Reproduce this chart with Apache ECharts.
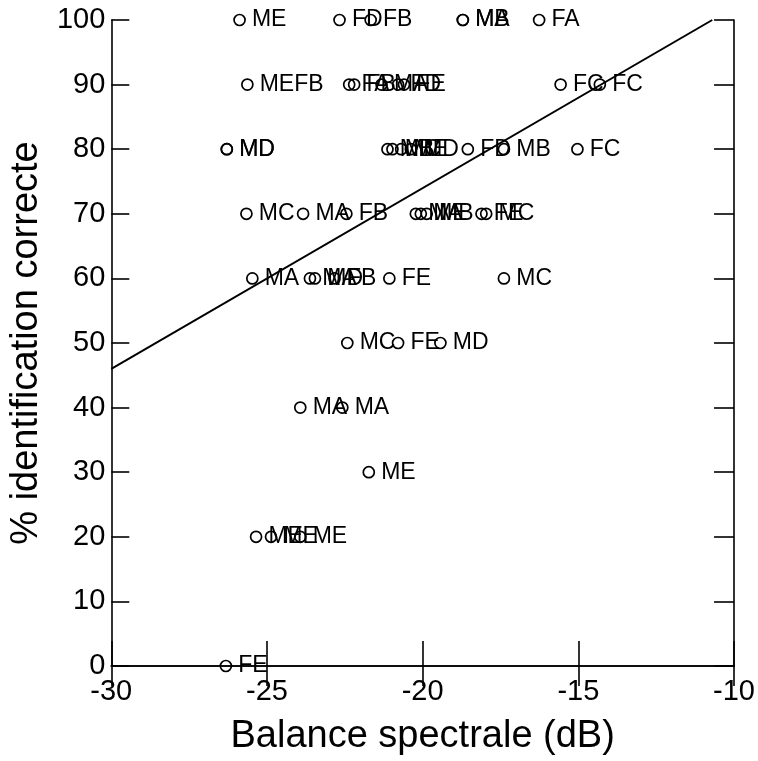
<!DOCTYPE html>
<html>
<head>
<meta charset="utf-8">
<script src="https://cdn.jsdelivr.net/npm/echarts@6/dist/echarts.min.js"></script>
<style>html,body{margin:0;padding:0;background:#fff}#c{width:758px;height:761px}</style>
</head>
<body>
<div id="c"></div>
<script>
// Balance spectrale (dB) of each stimulus
var balance = [
  -25.88, -22.67, -21.67, -18.71, -18.71, -16.26,
  -25.63, -22.36, -22.20, -21.32, -20.79, -20.60, -15.57, -14.31,
  -26.29, -26.29, -21.13, -20.97, -20.69, -20.38, -18.55, -17.39, -15.03,
  -25.66, -23.84, -22.45, -20.22, -20.06, -19.87, -18.11, -17.96,
  -25.47, -23.62, -23.46, -22.83, -21.07, -17.39,
  -22.42, -20.79, -19.43,
  -23.93, -22.58,
  -21.73,
  -25.35, -24.87, -23.93,
  -26.32
];
// % identification correcte
var identification = [
  100, 100, 100, 100, 100, 100,
  90, 90, 90, 90, 90, 90, 90, 90,
  80, 80, 80, 80, 80, 80, 80, 80, 80,
  70, 70, 70, 70, 70, 70, 70, 70,
  60, 60, 60, 60, 60, 60,
  50, 50, 50,
  40, 40,
  30,
  20, 20, 20,
  0
];
// speaker labels
var speakers = [
  "ME", "FD", "FB", "MA", "MB", "FA",
  "MEFB", "FA", "FB", "MA", "FD", "FE", "FC", "FC",
  "MD", "MD", "MB", "MC", "ME", "MD", "FD", "MB", "FC",
  "MC", "MA", "FB", "MA", "ME", "MB", "FE", "MC",
  "MA", "MA", "MD", "FB", "FE", "MC",
  "MC", "FE", "MD",
  "MA", "MA",
  "ME",
  "ME", "ME", "ME",
  "FE"
];
// regression line end points
var lineX = [-30, -10.7];
var lineY = [46, 100];
var xTicks = [-30, -25, -20, -15, -10];
var yTicks = [0, 10, 20, 30, 40, 50, 60, 70, 80, 90, 100];

var FONT = "'Liberation Sans', Arial, sans-serif";
var chart = echarts.init(document.getElementById('c'), null, {renderer: 'canvas'});
var pts = balance.map(function (x, i) { return [x, identification[i], speakers[i]]; });
var axisLine = {show: true, lineStyle: {color: '#000', width: 1.6}};
chart.setOption({
  animation: false,
  backgroundColor: '#fff',
  grid: {left: 104, right: 19, top: 20, bottom: 91, containLabel: false},
  xAxis: [{
    type: 'value', min: xTicks[0], max: xTicks[xTicks.length - 1], interval: 5, position: 'bottom',
    name: 'Balance spectrale (dB)', nameLocation: 'middle', nameGap: 52,
    nameTextStyle: {fontFamily: FONT, fontSize: 38, color: '#000'},
    axisLine: axisLine,
    axisTick: {inside: true, length: 25, lineStyle: {color: '#000', width: 1.6}},
    axisLabel: {fontFamily: FONT, fontSize: 29, color: '#000', margin: 11},
    splitLine: {show: false}
  }, {
    type: 'value', min: xTicks[0], max: xTicks[xTicks.length - 1], interval: 5, position: 'top',
    axisLine: axisLine,
    axisTick: {inside: true, length: 20, lineStyle: {color: '#000', width: 1.6}},
    axisLabel: {show: false}, splitLine: {show: false}
  }],
  yAxis: [{
    type: 'value', min: yTicks[0], max: yTicks[yTicks.length - 1], interval: 10, position: 'left',
    name: '% identification correcte', nameLocation: 'middle', nameGap: 47,
    nameTextStyle: {fontFamily: FONT, fontSize: 38, color: '#000'},
    axisLine: axisLine,
    axisTick: {inside: true, length: 18, lineStyle: {color: '#000', width: 1.6}},
    axisLabel: {fontFamily: FONT, fontSize: 29, color: '#000', margin: 6},
    splitLine: {show: false}
  }, {
    type: 'value', min: yTicks[0], max: yTicks[yTicks.length - 1], interval: 10, position: 'right',
    axisLine: axisLine,
    axisTick: {inside: true, length: 20, lineStyle: {color: '#000', width: 1.6}},
    axisLabel: {show: false}, splitLine: {show: false}
  }],
  series: [{
    type: 'line', silent: true, xAxisIndex: 0, yAxisIndex: 0,
    data: [[lineX[0], lineY[0]], [lineX[1], lineY[1]]],
    symbol: 'none', lineStyle: {color: '#000', width: 2}, z: 3
  }, {
    type: 'scatter', silent: true, xAxisIndex: 0, yAxisIndex: 0,
    data: pts, symbol: 'circle', symbolSize: 11,
    itemStyle: {color: 'rgba(0,0,0,0)', borderColor: '#000', borderWidth: 1.7, opacity: 1},
    label: {show: true, position: 'right', distance: 6,
      formatter: function (p) { return p.data[2]; },
      fontFamily: FONT, fontSize: 23, color: '#000', opacity: 1},
    labelLayout: {hideOverlap: false}, z: 4
  }]
});
</script>
</body>
</html>
